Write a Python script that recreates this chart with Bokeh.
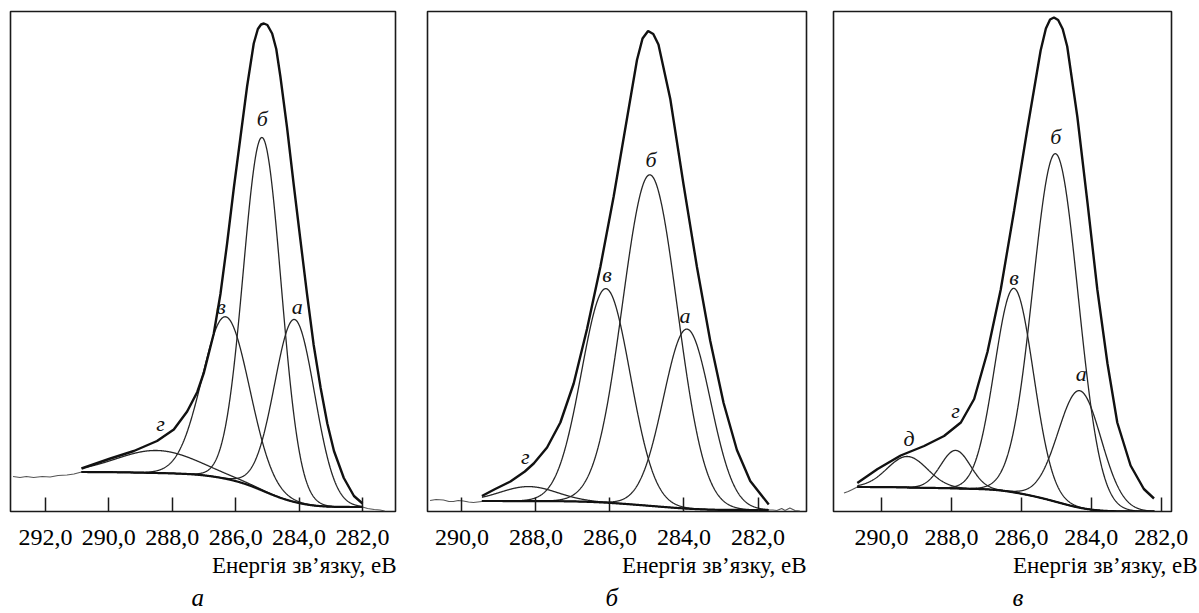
import numpy as np
from bokeh.plotting import figure
from bokeh.layouts import row
from bokeh.models import Range1d, FixedTicker, Label, Title
from bokeh.embed import file_html
from bokeh.resources import INLINE

# ---------------- data (binding energy in eV, intensity in % of frame height) -------------
# panel a
a_ticks = [292, 290, 288, 286, 284, 282]
a_xrange = (293.1, 280.96)
a_names = ["а", "б", "в", "г"]
a_center = [284.14, 285.16, 286.31, 288.48]
a_height = [36.5, 70.6, 32.4, 4.5]
a_fwhm = [1.5, 1.4, 1.75, 3.0]
a_label_E = [284.06, 285.16, 286.46, 288.37]
a_label_I = [41.0, 78.6, 41.0, 17.6]
a_fit_span = [282.0, 290.86]
a_bg_level = [0.9, 7.9]
a_env_E = [290.86, 289.95, 289.21, 288.48, 287.95, 287.53, 287.21, 287.0, 286.69, 286.48,
           286.27, 286.06, 285.85, 285.64, 285.43, 285.3, 285.2, 285.11, 285.0, 284.85,
           284.72, 284.59, 284.38, 284.17, 283.96, 283.75, 283.54, 283.32, 283.11, 282.9,
           282.59, 282.27, 282.0]
a_env_I = [8.6, 10.6, 12.1, 14.1, 16.4, 20.0, 23.9, 27.8, 35.6, 43.5,
           53.6, 64.6, 74.8, 85.0, 93.6, 96.5, 97.4, 97.6, 97.3, 95.6,
           92.5, 87.0, 76.8, 65.4, 54.4, 43.5, 33.3, 24.7, 17.6, 12.1,
           6.7, 3.1, 1.6]
a_raw_E = [293.02, 292.8, 292.6, 292.37, 292.1, 291.85, 291.6, 291.32, 291.1, 290.86]
a_raw_I = [7.0, 6.8, 7.0, 6.8, 7.0, 6.9, 7.2, 7.3, 7.5, 7.9]
a_tail_E = [282.0, 281.84, 281.63, 281.45, 281.3]
a_tail_I = [0.9, 0.6, 0.4, 0.3, 0.1]

# panel b
b_ticks = [290, 288, 286, 284, 282]
b_xrange = (290.93, 280.69)
b_names = ["а", "б", "в", "г"]
b_center = [283.92, 284.92, 286.11, 288.2]
b_height = [35.9, 66.2, 42.8, 2.9]
b_fwhm = [1.5, 1.74, 1.55, 1.8]
b_label_E = [283.97, 284.89, 286.08, 288.29]
b_label_I = [39.2, 70.5, 47.4, 11.1]
b_fit_span = [281.72, 289.46]
b_bg_level = [0.3, 2.1]
b_env_E = [289.46, 289.1, 288.69, 288.3, 288.06, 287.7, 287.34, 286.98, 286.62, 286.26,
           285.9, 285.54, 285.27, 285.12, 284.97, 284.83, 284.69, 284.37, 284.01, 283.65,
           283.29, 282.93, 282.57, 282.21, 281.71]
b_env_I = [3.1, 4.5, 6.0, 8.0, 9.6, 12.8, 17.8, 25.6, 36.5, 48.9,
           63.0, 78.6, 90.3, 94.6, 96.1, 95.5, 93.4, 82.5, 65.3, 48.9,
           34.1, 21.7, 12.3, 6.1, 1.4]
b_raw_E = [290.86, 290.7, 290.5, 290.35, 290.23, 290.1, 289.96, 289.82, 289.69, 289.46]
b_raw_I = [2.2, 2.4, 2.3, 2.0, 2.0, 2.2, 2.1, 1.9, 1.8, 2.0]
b_tail_E = [281.76, 281.6, 281.49, 281.36, 281.27, 281.14, 281.0, 280.87]
b_tail_I = [0.3, 0.3, 0.2, 0.6, 0.2, 0.7, 0.2, 0.1]

# panel c
c_ticks = [290, 288, 286, 284, 282]
c_xrange = (291.37, 281.71)
c_names = ["а", "б", "в", "г", "д"]
c_center = [284.33, 285.02, 286.21, 287.88, 289.26]
c_height = [23.4, 69.6, 40.8, 7.6, 6.2]
c_fwhm = [1.45, 1.52, 1.3, 1.0, 1.35]
c_label_E = [284.29, 285.02, 286.21, 287.88, 289.21]
c_label_I = [27.6, 75.0, 46.8, 20.2, 14.7]
c_fit_span = [282.2, 290.69]
c_bg_level = [0.0, 4.9]
c_env_E = [290.69, 290.11, 289.45, 288.78, 288.21, 287.73, 287.35, 286.97, 286.59, 286.21,
           285.83, 285.45, 285.3, 285.18, 285.07, 284.95, 284.82, 284.69, 284.4, 284.11,
           283.83, 283.54, 283.26, 282.88, 282.5, 282.21]
c_env_I = [5.7, 8.5, 11.2, 13.1, 15.1, 17.8, 22.5, 31.9, 44.4, 60.1,
           76.5, 92.2, 96.6, 98.4, 98.8, 98.3, 96.5, 93.0, 78.9, 61.7,
           44.4, 29.6, 17.8, 9.2, 4.5, 2.6]
c_raw_E = [291.07, 290.95, 290.83, 290.69]
c_raw_I = [3.7, 4.0, 4.4, 4.9]

axis_title = "Енергія зв’язку, еВ"
panel_titles = ["а", "б", "в"]

SERIF = "Liberation Serif"


def gauss(E, c, h, w):
    return h * np.exp(-4.0 * np.log(2.0) * (E - c) ** 2 / w ** 2)


def make_panel(width, bl, br, xr, ticks, names, center, height, fwhm, lab_E, lab_I,
               span, bg_level, env_E, env_I, raws, title, title_off, axis_off):
    p = figure(width=width, height=613, x_range=Range1d(*xr), y_range=Range1d(0, 100),
               output_backend="svg", toolbar_location=None, y_axis_location=None,
               min_border_left=bl, min_border_right=br, min_border_top=11,
               min_border_bottom=102, background_fill_color="white",
               border_fill_color="white")
    p.grid.visible = False
    p.outline_line_color = "#1a1a1a"
    p.outline_line_width = 1.6
    ax = p.xaxis[0]
    ax.ticker = FixedTicker(ticks=ticks)
    ax.major_label_overrides = {t: ("%.1f" % t).replace(".", ",") for t in ticks}
    ax.major_tick_in = 14
    ax.major_tick_out = 0
    ax.major_tick_line_width = 1.5
    ax.major_tick_line_color = "#1a1a1a"
    ax.minor_tick_line_color = None
    ax.axis_line_color = None
    ax.major_label_standoff = 18
    ax.major_label_text_font = SERIF
    ax.major_label_text_font_size = "24px"
    ax.major_label_text_color = "black"

    E = np.linspace(span[0], span[1], 800)
    comps = [gauss(E, c, h, w) for c, h, w in zip(center, height, fwhm)]
    S = np.sum(comps, axis=0)
    cum = np.concatenate([[0.0], np.cumsum(0.5 * (S[1:] + S[:-1]) * np.diff(E))])
    bg = bg_level[0] + (bg_level[1] - bg_level[0]) * cum / cum[-1]

    for rE, rI in raws:
        p.line(rE, rI, line_color="#555555", line_width=1.1)
    for g in comps:
        p.line(E, bg + g, line_color="#262626", line_width=1.3)
    p.line(E, bg, line_color="#111111", line_width=2.2)
    p.line(env_E, env_I, line_color="#111111", line_width=2.4)

    for n, x, y in zip(names, lab_E, lab_I):
        p.add_layout(Label(x=x, y=y, text=n, text_font=SERIF, text_font_style="italic",
                           text_font_size="22px", text_align="center",
                           text_baseline="middle", text_color="#111111"))
    p.add_layout(Title(text=axis_title, align="right", offset=axis_off, standoff=6,
                       text_font=SERIF, text_font_size="23px", text_font_style="normal",
                       text_color="black"), "below")
    p.add_layout(Title(text=title, align="left", offset=title_off, standoff=2,
                       text_font=SERIF, text_font_size="25px", text_font_style="italic",
                       text_color="black"), "below")
    return p


pa = make_panel(418, 10, 23, a_xrange, a_ticks, a_names, a_center, a_height, a_fwhm,
                a_label_E, a_label_I, a_fit_span, a_bg_level, a_env_E, a_env_I,
                [(a_raw_E, a_raw_I), (a_tail_E, a_tail_I)], panel_titles[0], 181, -1)
pb = make_panel(402, 9, 14, b_xrange, b_ticks, b_names, b_center, b_height, b_fwhm,
                b_label_E, b_label_I, b_fit_span, b_bg_level, b_env_E, b_env_I,
                [(b_raw_E, b_raw_I), (b_tail_E, b_tail_I)], panel_titles[1], 178, 0)
pc = make_panel(379, 13, 28, c_xrange, c_ticks, c_names, c_center, c_height, c_fwhm,
                c_label_E, c_label_I, c_fit_span, c_bg_level, c_env_E, c_env_I,
                [(c_raw_E, c_raw_I)], panel_titles[2], 179, -26)

layout = row(pa, pb, pc, spacing=0)
open("out.html", "w").write(file_html(layout, INLINE))
